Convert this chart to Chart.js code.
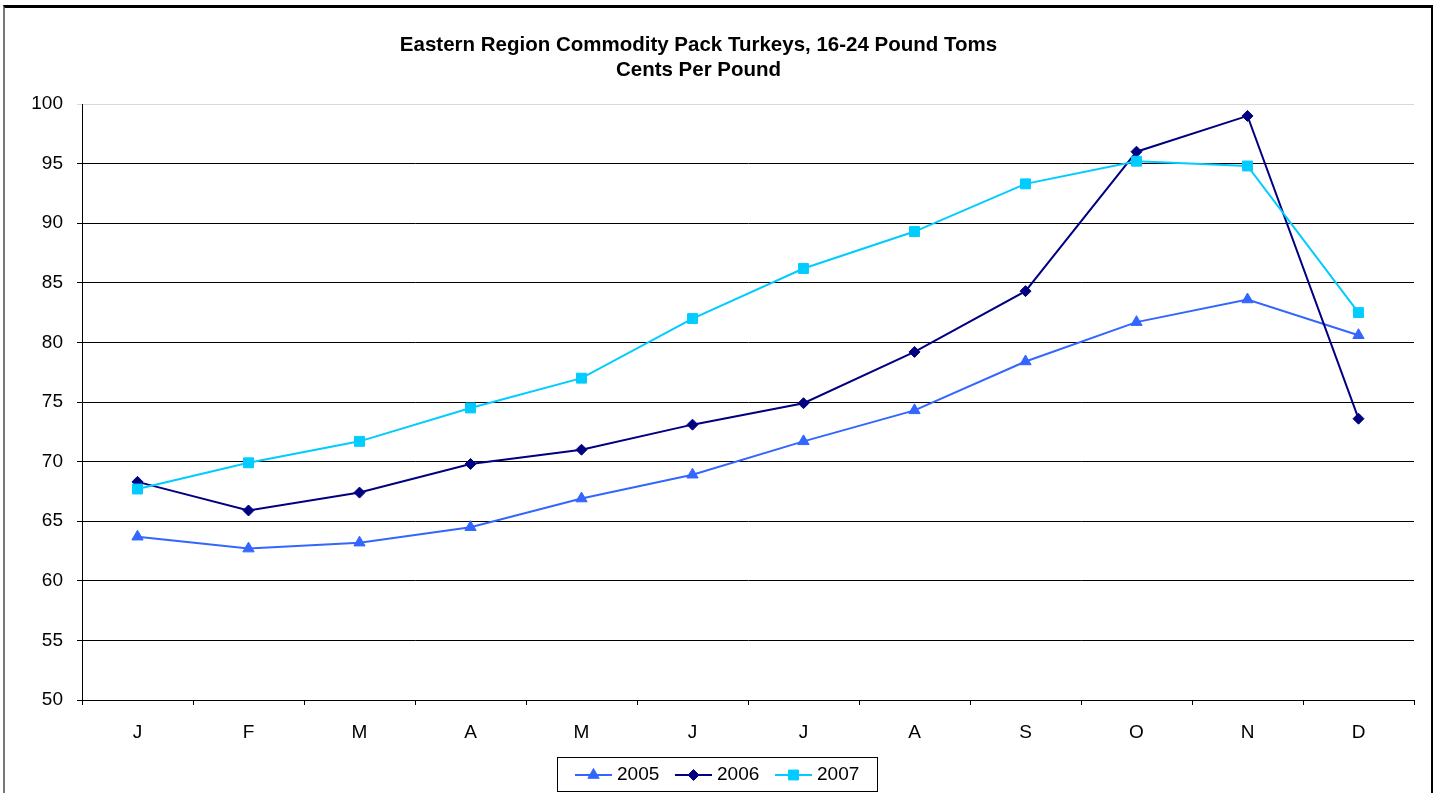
<!DOCTYPE html>
<html>
<head>
<meta charset="utf-8">
<title>Eastern Region Commodity Pack Turkeys</title>
<script src="https://cdn.jsdelivr.net/npm/chart.js@4.4.1/dist/chart.umd.min.js"></script>
<style>
  html, body { margin: 0; padding: 0; background: #fff; overflow: hidden; }
  #wrap { position: relative; width: 1440px; height: 793px; }
  #frame { position: absolute; left: 3px; top: 5px; width: 1426px; height: 800px;
           border-top: 3px solid #000; border-left: 2px solid #777; border-right: 2px solid #000; }
  canvas { position: absolute; left: 0; top: 0; }
</style>
</head>
<body>
<div id="wrap">
  <div id="frame"></div>
  <canvas id="grafico" width="1440" height="793"></canvas>
</div>
<script>
// dados (centavos por libra)
var meses = ['J', 'F', 'M', 'A', 'M', 'J', 'J', 'A', 'S', 'O', 'N', 'D'];
var anos = ['2005', '2006', '2007'];
var valores2005 = [63.7, 62.7, 63.2, 64.5, 66.9, 68.9, 71.7, 74.3, 78.4, 81.7, 83.6, 80.6];
var valores2006 = [68.3, 65.9, 67.4, 69.8, 71.0, 73.1, 74.9, 79.2, 84.3, 96.0, 99.0, 73.6];
var valores2007 = [67.7, 69.9, 71.7, 74.5, 77.0, 82.0, 86.2, 89.3, 93.3, 95.2, 94.8, 82.5];
var ticksY = [50, 55, 60, 65, 70, 75, 80, 85, 90, 95, 100];
var titulo = ['Eastern Region Commodity Pack Turkeys, 16-24 Pound Toms', 'Cents Per Pound'];

var cores = ['#3366FF', '#000080', '#00CCFF'];
var marcadores = ['triangle', 'rectRot', 'rect'];
var raios = [6.5, 5.5, 7];
var fonte = '"Liberation Sans", Arial, sans-serif';

// titulo e legenda desenhados a mao
var pluginExtras = {
  id: 'extras',
  afterDraw: function(chart) {
    var ctx = chart.ctx;
    ctx.save();
    ctx.fillStyle = '#000';
    ctx.font = 'bold 20.5px ' + fonte;
    ctx.textAlign = 'center';
    ctx.textBaseline = 'middle';
    ctx.fillText(titulo[0], 698.5, 45.5);
    ctx.fillText(titulo[1], 698.5, 70.5);

    // caixa da legenda
    ctx.strokeStyle = '#000';
    ctx.lineWidth = 1;
    ctx.strokeRect(557.5, 757.5, 320, 34);
    ctx.font = '19px ' + fonte;
    ctx.textAlign = 'left';
    var x = 575;
    chart.data.datasets.forEach(function(ds, i) {
      ctx.strokeStyle = ds.borderColor;
      ctx.lineWidth = 2;
      ctx.beginPath();
      ctx.moveTo(x, 775);
      ctx.lineTo(x + 37, 775);
      ctx.stroke();
      ctx.fillStyle = ds.borderColor;
      ctx.lineWidth = 1;
      Chart.helpers.drawPoint(ctx, { pointStyle: ds.pointStyle, radius: ds.pointRadius, rotation: 0, borderWidth: 1 }, x + 18.5, 775);
      ctx.fillStyle = '#000';
      ctx.fillText(ds.label, x + 42, 775);
      x += 100;
    });
    ctx.restore();
  }
};

function gerarGrafico(canvas) {
  var series = [valores2005, valores2006, valores2007];
  var datasets = series.map(function(v, i) {
    return {
      label: anos[i],
      data: v,
      borderColor: cores[i],
      backgroundColor: cores[i],
      borderWidth: 2,
      pointStyle: marcadores[i],
      pointRadius: raios[i],
      pointHoverRadius: raios[i],
      pointBorderWidth: 1,
      tension: 0,
      order: 3 - i
    };
  });

  new Chart(canvas, {
    type: 'line',
    data: { labels: meses, datasets: datasets },
    plugins: [pluginExtras],
    options: {
      responsive: false,
      animation: false,
      layout: { padding: { top: 104, right: 26, bottom: 43, left: 0 } },
      plugins: {
        legend: { display: false },
        title: { display: false },
        tooltip: { enabled: false }
      },
      scales: {
        x: {
          offset: true,
          afterFit: function(s) { s.height = 50; },
          grid: { offset: true, drawOnChartArea: false, drawTicks: true, tickLength: 5, color: '#000' },
          border: { color: '#000', width: 1 },
          ticks: { color: '#000', font: { family: fonte, size: 19 }, padding: 16, maxRotation: 0, autoSkip: false }
        },
        y: {
          min: 50,
          max: 100,
          afterFit: function(s) { s.width = 82; },
          afterBuildTicks: function(s) { s.ticks = ticksY.map(function(t) { return { value: t }; }); },
          grid: {
            drawTicks: true,
            tickLength: 5,
            color: function(c) { return c.tick && c.tick.value === 100 ? '#d9d9d9' : '#000'; }
          },
          border: { color: '#000', width: 1 },
          ticks: { color: '#000', font: { family: fonte, size: 19 }, padding: 14 }
        }
      }
    }
  });
}

window.addEventListener('DOMContentLoaded', function() {
  gerarGrafico(document.getElementById('grafico'));
});
</script>
</body>
</html>
